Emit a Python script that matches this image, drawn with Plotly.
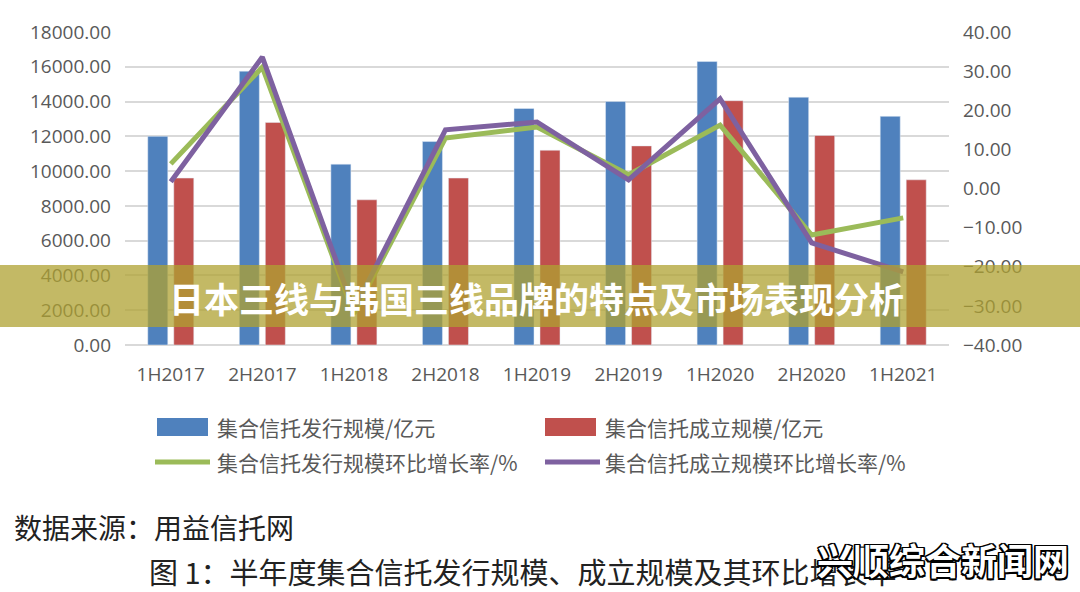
import plotly.graph_objects as go

categories = ["1H2017", "2H2017", "1H2018", "2H2018", "1H2019", "2H2019", "1H2020", "2H2020", "1H2021"]
issue_scale = [12000, 15750, 10400, 11700, 13600, 14000, 16300, 14250, 13150]
established_scale = [9600, 12800, 8350, 9600, 11200, 11450, 14050, 12050, 9500]
issue_growth = [6.3, 31.0, -32.0, 12.9, 15.7, 3.5, 16.2, -11.9, -7.5]
established_growth = [1.7, 33.6, -31.0, 15.0, 17.0, 2.2, 22.9, -13.9, -21.3]
names = ["集合信托发行规模/亿元", "集合信托成立规模/亿元",
         "集合信托发行规模环比增长率/%", "集合信托成立规模环比增长率/%"]
colors = ["#4F81BD", "#C0504D", "#9BBB59", "#7E61A0"]
left_ticks = list(range(0, 18001, 2000))
right_ticks = list(range(-40, 41, 10))
banner_text = "日本三线与韩国三线品牌的特点及市场表现分析"
source_text = "数据来源：用益信托网"
caption_text = "图 1：半年度集合信托发行规模、成立规模及其环比增长率"
watermark_text = "兴顺综合新闻网"

W, H = 1080, 592
L, R, T, B = 125, 949, 32, 345


def px(x):
    return (x - L) / (R - L)


def py(y):
    return (B - y) / (B - T)


fig = go.Figure()
fig.add_trace(go.Bar(x=categories, y=issue_scale, name=names[0], marker_color=colors[0]))
fig.add_trace(go.Bar(x=categories, y=established_scale, name=names[1], marker_color=colors[1]))
fig.add_trace(go.Scatter(x=categories, y=issue_growth, name=names[2], yaxis="y2", mode="lines",
                         line=dict(color=colors[2], width=5)))
fig.add_trace(go.Scatter(x=categories, y=established_growth, name=names[3], yaxis="y2", mode="lines",
                         line=dict(color=colors[3], width=5)))

tickfont = dict(family="Open Sans, Noto Sans", size=19, color="#595959")

shapes = []
annotations = []

# legend (manual)
leg_font = dict(family="Noto Sans CJK SC", size=21, color="#595959")
shapes.append(dict(type="rect", xref="paper", yref="paper", x0=px(157), x1=px(208), y0=py(436), y1=py(418),
                   fillcolor=colors[0], line=dict(width=0)))
shapes.append(dict(type="rect", xref="paper", yref="paper", x0=px(545), x1=px(596), y0=py(436), y1=py(418),
                   fillcolor=colors[1], line=dict(width=0)))
shapes.append(dict(type="line", xref="paper", yref="paper", x0=px(155), x1=px(210), y0=py(462), y1=py(462),
                   line=dict(color=colors[2], width=5)))
shapes.append(dict(type="line", xref="paper", yref="paper", x0=px(545), x1=px(600), y0=py(462), y1=py(462),
                   line=dict(color=colors[3], width=5)))
for name, (x, y) in zip(names, [(215, 427), (603, 427), (215, 462), (603, 462)]):
    annotations.append(dict(text=name, xref="paper", yref="paper", x=px(x), y=py(y), xanchor="left",
                            yanchor="middle", showarrow=False, font=leg_font))

# banner
shapes.append(dict(type="rect", xref="paper", yref="paper", x0=px(0), x1=px(W), y0=py(327), y1=py(265),
                   fillcolor="rgba(175,162,50,0.75)", line=dict(width=0), layer="above"))
annotations.append(dict(text=banner_text, xref="paper", yref="paper", x=px(536), y=py(297),
                        xanchor="center", yanchor="middle", showarrow=False,
                        font=dict(family="Noto Sans CJK SC", size=35, color="white", weight="bold")))

# bottom texts
annotations.append(dict(text=source_text, xref="paper", yref="paper", x=px(12), y=py(527),
                        xanchor="left", yanchor="middle", showarrow=False,
                        font=dict(family="Noto Sans CJK SC", size=28, color="#222222")))
annotations.append(dict(text=caption_text, xref="paper", yref="paper", x=px(147), y=py(571),
                        xanchor="left", yanchor="middle", showarrow=False,
                        font=dict(family="Noto Sans CJK SC", size=29, color="#222222")))
annotations.append(dict(text=watermark_text, xref="paper", yref="paper", x=px(943), y=py(559),
                        xanchor="center", yanchor="middle", showarrow=False,
                        font=dict(family="Noto Sans CJK SC", size=36, color="white", weight="bold",
                                  shadow="1.5px 1.5px 0 #000, -1.5px -1.5px 0 #000, 1.5px -1.5px 0 #000, "
                                         "-1.5px 1.5px 0 #000, 0 1.5px 0 #000, 0 -1.5px 0 #000, "
                                         "1.5px 0 0 #000, -1.5px 0 0 #000")))

fig.update_layout(
    width=W, height=H,
    margin=dict(l=L, r=W - R, t=T, b=H - B, pad=0),
    paper_bgcolor="white", plot_bgcolor="white",
    barmode="group", bargap=0.432, bargroupgap=0.23,
    showlegend=False,
    xaxis=dict(type="category", tickfont=tickfont, showgrid=False, showline=False, ticks="",
               ticklabelstandoff=16),
    yaxis=dict(range=[0, 18000], tickvals=left_ticks, tickformat=".2f", tickfont=tickfont,
               showgrid=True, gridcolor="#D9D9D9", gridwidth=1.5, zeroline=True, zerolinecolor="#D9D9D9",
               zerolinewidth=1.5, showline=False, ticks="", ticklabelstandoff=13),
    yaxis2=dict(range=[-40, 40], tickvals=right_ticks, tickformat=".2f", tickfont=tickfont,
                overlaying="y", side="right", showgrid=False, zeroline=False, showline=False, ticks="",
                ticklabelstandoff=13),
    shapes=shapes,
    annotations=annotations,
    font=dict(family="Noto Sans CJK SC"),
)

fig.write_html("out.html")
